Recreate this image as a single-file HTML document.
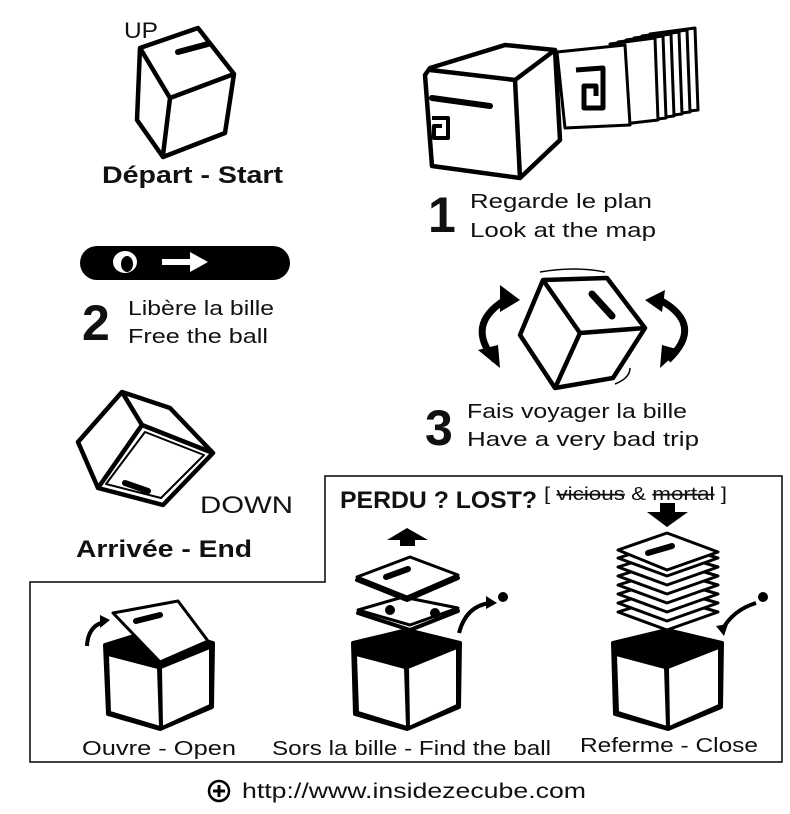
<!DOCTYPE html>
<html><head><meta charset="utf-8"><style>
html,body{margin:0;padding:0;background:#fff;}
svg{display:block;font-family:"Liberation Sans",sans-serif;}
</style></head><body>
<svg width="790" height="814" viewBox="0 0 790 814" xmlns="http://www.w3.org/2000/svg">
<g fill="#fff" stroke="#000" stroke-width="4.5" stroke-linejoin="round">
<!-- Start cube -->
<path d="M140 48 L198 28 L234 74 L225 133 L163 157 L137 120 Z"/>
<path d="M140 48 L170 98 L234 74 M170 98 L163 155" fill="none"/>
<path d="M178 52 L208 44" stroke-width="6" stroke-linecap="round"/>
<!-- Cube 1 -->
<path d="M425 75 L430 68 L505 45 L555 50 L560 140 L520 178 L432 166 Z"/>
<path d="M430 70 L515 80 L555 50 M515 80 L520 178" fill="none"/>
<path d="M432 98 L490 106" stroke-width="6" stroke-linecap="round"/>
<path d="M432 118 L448 118 L448 138 L434 138 L434 126 L442 126" fill="none" stroke-width="4"/>
<!-- Cards -->
<g stroke-width="3">
<path d="M650 34 L695 28 L698 110 L655 115Z"/><path d="M642 36 L687 30 L690 112 L647 117Z"/>
<path d="M634 38 L679 32 L682 114 L639 119Z"/><path d="M626 40 L671 34 L674 116 L631 121Z"/>
<path d="M618 42 L663 36 L666 118 L623 123Z"/><path d="M610 44 L655 38 L658 120 L615 125Z"/>
</g>
<path d="M557 52 L625 45 L630 125 L565 128Z" stroke-width="3"/>
<path d="M576 70 L603 68 L603 108 L584 108 L584 86 L596 86 L596 96" fill="none" stroke-width="5"/>
<!-- Cube 3 -->
<path d="M543 280 L607 278 L645 328 L613 378 L555 388 L520 335 Z"/>
<path d="M543 280 L580 333 L645 328 M580 333 L555 388" fill="none"/>
<path d="M592 294 L612 316" stroke-width="7" stroke-linecap="round"/>
<!-- End cube -->
<path d="M122 392 L170 408 L213 453 L163 505 L98 488 L78 442 Z"/>
<path d="M122 392 L142 425 L213 453 M142 425 L98 488" fill="none"/>
<path d="M145 432 L204 455 L161 498 L106 484 Z" stroke-width="2"/>
<path d="M125 483 L148 491" stroke-width="6" stroke-linecap="round"/>
</g>
<path d="M540 272 Q575 266 605 272 M615 384 Q630 378 630 368" fill="none" stroke="#000" stroke-width="1.5"/>
<!-- cube 3 arrows -->
<g fill="none" stroke="#000" stroke-width="7">
<path d="M505 300 Q465 325 495 360"/><path d="M660 300 Q705 325 668 360"/>
</g>
<g fill="#000"><path d="M500 285 L520 300 L500 312Z"/><path d="M478 350 L500 368 L498 345Z"/>
<path d="M665 290 L645 300 L662 312Z"/><path d="M680 350 L660 368 L662 345Z"/></g>
<!-- pill -->
<rect x="80" y="246" width="210" height="34" rx="17" fill="#000"/>
<ellipse cx="125" cy="262" rx="12" ry="11" fill="#fff"/><ellipse cx="127" cy="264" rx="6" ry="8" fill="#000"/>
<path d="M162 262 L195 262" stroke="#fff" stroke-width="6"/><path d="M190 252 L208 262 L190 272Z" fill="#fff"/>
<!-- lost box -->
<path d="M30 582 L325 582 L325 476 L782 476 L782 762 L30 762Z" fill="none" stroke="#000" stroke-width="1.5"/>
<!-- bottom cubes -->
<g stroke="#000" stroke-width="4" stroke-linejoin="round">
<path d="M105 645 L160 628 L213 643 L212 707 L160 729 L108 714 Z" fill="#000"/>
<path d="M108 655 L158 668 L160 727 L110 712Z M161 668 L210 648 L210 705 L162 727Z" fill="#fff" stroke-width="2"/>
<path d="M353 643 L407 630 L460 643 L459 707 L407 729 L355 714 Z" fill="#000"/>
<path d="M356 655 L405 668 L407 727 L358 712Z M408 668 L457 648 L457 705 L409 727Z" fill="#fff" stroke-width="2"/>
<path d="M613 643 L667 630 L722 643 L721 707 L668 729 L615 714 Z" fill="#000"/>
<path d="M616 655 L665 668 L667 727 L618 712Z M668 668 L719 648 L719 705 L669 727Z" fill="#fff" stroke-width="2"/>
</g>
<g fill="#fff" stroke="#000" stroke-width="3" stroke-linejoin="round">
<path d="M113 613 L178 601 L208 641 L160 662Z"/>
<path d="M136 621 L160 615" stroke-width="6" stroke-linecap="round"/>
<path d="M358 613 L403 600 L458 611 L410 630Z" stroke-width="4"/>
<path d="M358 610 L403 597 L458 608 L410 625Z"/>
<circle cx="390" cy="610" r="3.5" fill="#000"/><circle cx="435" cy="613" r="3.5" fill="#000"/>
<path d="M357 580 L410 560 L458 578 L407 600Z" stroke-width="4"/>
<path d="M357 577 L410 557 L458 575 L407 597Z"/>
<path d="M386 577 L408 569" stroke-width="6" stroke-linecap="round"/>
<path d="M618 612 L667 597 L718 612 L667 630Z"/>
<path d="M618 603 L667 588 L718 603 L667 621Z"/>
<path d="M618 594 L667 579 L718 594 L667 612Z"/>
<path d="M618 585 L667 570 L718 585 L667 603Z"/>
<path d="M618 576 L667 561 L718 576 L667 594Z"/>
<path d="M618 567 L667 552 L718 567 L667 585Z"/>
<path d="M618 558 L667 543 L718 558 L667 576Z"/>
<path d="M618 550 L667 533 L718 552 L667 570Z"/>
<path d="M648 553 L672 546" stroke-width="6" stroke-linecap="round"/>
</g>
<g fill="#000">
<path d="M387 540 L407 528 L428 540 L415 540 L415 546 L400 546 L400 540Z"/>
<path d="M647 512 L660 512 L660 503 L675 503 L675 512 L688 512 L667 527Z"/>
<circle cx="503" cy="597" r="5"/><circle cx="763" cy="597" r="5"/>
</g>
<g fill="none" stroke="#000" stroke-width="4">
<path d="M87 646 Q88 626 104 622"/><path d="M459 633 Q466 606 490 603"/><path d="M756 603 Q733 610 722 630"/>
</g>
<g fill="#000"><path d="M100 615 L110 620 L100 628Z"/><path d="M486 596 L497 603 L486 609Z"/><path d="M716 626 L724 636 L728 624Z"/></g>
<!-- text -->
<g fill="#111">
<text x="124" y="38" font-size="22" textLength="34" lengthAdjust="spacingAndGlyphs">UP</text>
<text x="102" y="183" font-size="24" font-weight="bold" textLength="181" lengthAdjust="spacingAndGlyphs">Départ - Start</text>
<text x="428" y="232" font-size="50" font-weight="bold">1</text>
<text x="470" y="208" font-size="20" textLength="182" lengthAdjust="spacingAndGlyphs">Regarde le plan</text>
<text x="470" y="237" font-size="20" textLength="186" lengthAdjust="spacingAndGlyphs">Look at the map</text>
<text x="82" y="340" font-size="50" font-weight="bold">2</text>
<text x="128" y="315" font-size="20" textLength="146" lengthAdjust="spacingAndGlyphs">Libère la bille</text>
<text x="128" y="343" font-size="20" textLength="140" lengthAdjust="spacingAndGlyphs">Free the ball</text>
<text x="425" y="445" font-size="50" font-weight="bold">3</text>
<text x="467" y="418" font-size="20" textLength="220" lengthAdjust="spacingAndGlyphs">Fais voyager la bille</text>
<text x="467" y="446" font-size="20" textLength="232" lengthAdjust="spacingAndGlyphs">Have a very bad trip</text>
<text x="200" y="513" font-size="24" textLength="93" lengthAdjust="spacingAndGlyphs">DOWN</text>
<text x="76" y="557" font-size="24" font-weight="bold" textLength="176" lengthAdjust="spacingAndGlyphs">Arrivée - End</text>
<text x="340" y="508" font-size="24" font-weight="bold" textLength="197" lengthAdjust="spacingAndGlyphs">PERDU ? LOST?</text>
<text x="544" y="500" font-size="18" textLength="183" lengthAdjust="spacingAndGlyphs">[ <tspan text-decoration="line-through">vicious</tspan> &amp; <tspan text-decoration="line-through">mortal</tspan> ]</text>
<text x="82" y="755" font-size="20" textLength="154" lengthAdjust="spacingAndGlyphs">Ouvre - Open</text>
<text x="272" y="755" font-size="20" textLength="279" lengthAdjust="spacingAndGlyphs">Sors la bille - Find the ball</text>
<text x="580" y="752" font-size="20" textLength="178" lengthAdjust="spacingAndGlyphs">Referme - Close</text>
<text x="242" y="798" font-size="21" textLength="344" lengthAdjust="spacingAndGlyphs">http://www.insidezecube.com</text>
</g>
<circle cx="219" cy="791" r="10" fill="none" stroke="#000" stroke-width="2.5"/>
<path d="M213 791 L225 791 M219 785 L219 797" stroke="#000" stroke-width="3"/>
</svg>
</body></html>
